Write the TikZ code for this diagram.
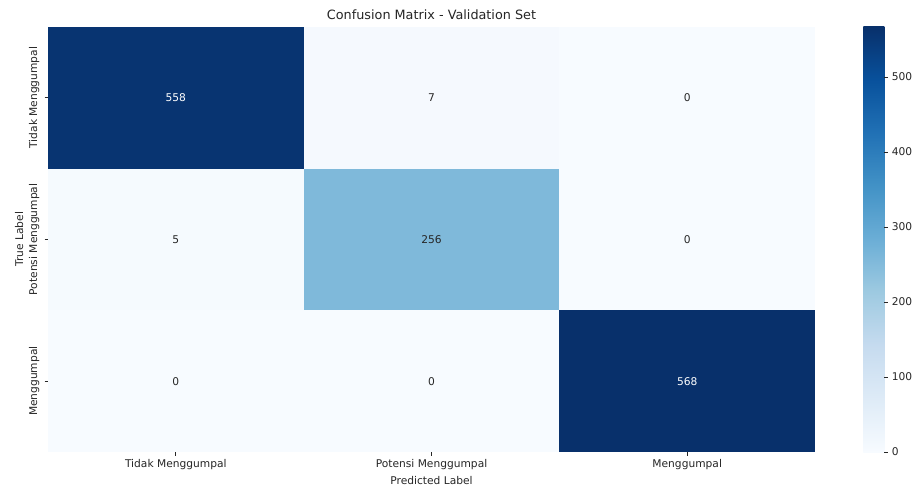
\documentclass[tikz,border=0pt]{standalone}
\usepackage{fontspec}
\setmainfont{DejaVu Sans}
\definecolor{txt}{RGB}{38,38,38}
\definecolor{bA}{RGB}{247,251,255}
\definecolor{bB}{RGB}{222,235,247}
\definecolor{bC}{RGB}{198,219,239}
\definecolor{bD}{RGB}{158,202,225}
\definecolor{bE}{RGB}{107,174,214}
\definecolor{bF}{RGB}{66,146,198}
\definecolor{bG}{RGB}{33,113,181}
\definecolor{bH}{RGB}{8,81,156}
\definecolor{bI}{RGB}{8,48,107}
\definecolor{c558}{RGB}{8,52,113}
\definecolor{c568}{RGB}{8,48,107}
\definecolor{c7}{RGB}{245,249,254}
\definecolor{c5}{RGB}{245,250,254}
\definecolor{c0}{RGB}{247,251,255}
\definecolor{c256}{RGB}{127,185,218}
\pgfdeclareverticalshading{blues}{100bp}{color(0bp)=(bA); color(25bp)=(bA); color(31.25bp)=(bB); color(37.5bp)=(bC); color(43.75bp)=(bD); color(50bp)=(bE); color(56.25bp)=(bF); color(62.5bp)=(bG); color(68.75bp)=(bH); color(75bp)=(bI); color(100bp)=(bI)}
\begin{document}
\begin{tikzpicture}[x=0.75pt,y=-0.75pt,
  lbl/.style={font=\fontsize{8}{9.6}\selectfont, text=txt, inner sep=0pt},
  ttl/.style={font=\fontsize{9.6}{11.5}\selectfont, text=txt, inner sep=0pt},
  darkval/.style={lbl, text=white},
  lightval/.style={lbl},
  tickmark/.style={draw=txt, line width=0.6pt}]
\useasboundingbox (0,0) rectangle (912,489);
\fill[white] (0,0) rectangle (912,489);
% cells
\fill[c558] (48,26.7) rectangle (303.7,168.5);
\fill[c7]   (303.7,26.7) rectangle (559.3,168.5);
\fill[c0]   (559.3,26.7) rectangle (815,168.5);
\fill[c5]   (48,168.5) rectangle (303.7,310.3);
\fill[c256] (303.7,168.5) rectangle (559.3,310.3);
\fill[c0]   (559.3,168.5) rectangle (815,310.3);
\fill[c0]   (48,310.3) rectangle (303.7,452);
\fill[c0]   (303.7,310.3) rectangle (559.3,452);
\fill[c568] (559.3,310.3) rectangle (815,452);
% annotations
\node[darkval]  (v11) at (175.8,97.6) {558};
\node[lightval] (v12) at (431.5,97.6) {7};
\node[lightval] (v13) at (687.2,97.6) {0};
\node[lightval] (v21) at (175.8,239.4) {5};
\node[lightval] (v22) at (431.5,239.4) {256};
\node[lightval] (v23) at (687.2,239.4) {0};
\node[lightval] (v31) at (175.8,381.2) {0};
\node[lightval] (v32) at (431.5,381.2) {0};
\node[darkval]  (v33) at (687.2,381.2) {568};
% ticks
\foreach \x in {175.8,431.5,687.2} \draw[tickmark] (\x,452) -- (\x,455.5);
\foreach \y in {97.6,239.4,381.2} \draw[tickmark] (44.5,\y) -- (48,\y);
% x tick labels
\node[lbl, anchor=base] (xl1) at (175.8,467.5) {Tidak Menggumpal};
\node[lbl, anchor=base] (xl2) at (431.5,467.5) {Potensi Menggumpal};
\node[lbl, anchor=base] (xl3) at (687.2,467.5) {Menggumpal};
\node[lbl, anchor=base] (xlab) at (431.5,484) {Predicted Label};
% y tick labels
\node[lbl, anchor=base, rotate=90] (yl1) at (37,97.6) {Tidak Menggumpal};
\node[lbl, anchor=base, rotate=90] (yl2) at (37,239.4) {Potensi Menggumpal};
\node[lbl, anchor=base, rotate=90] (yl3) at (37,381.2) {Menggumpal};
\node[lbl, anchor=base, rotate=90] (ylab) at (23,239.4) {True Label};
% title
\node[ttl, anchor=base] (title) at (431.5,19.5) {Confusion Matrix - Validation Set};
% colorbar
\shade[shading=blues] (863.3,26.7) rectangle (884.3,452);
\foreach \v in {0,100,200,300,400,500} {
  \draw[tickmark] (884.3,{452-\v*0.75}) -- (887.8,{452-\v*0.75});
  \node[lbl, anchor=west] at (891.5,{452-\v*0.75}) {\v};
}
\end{tikzpicture}
\end{document}
